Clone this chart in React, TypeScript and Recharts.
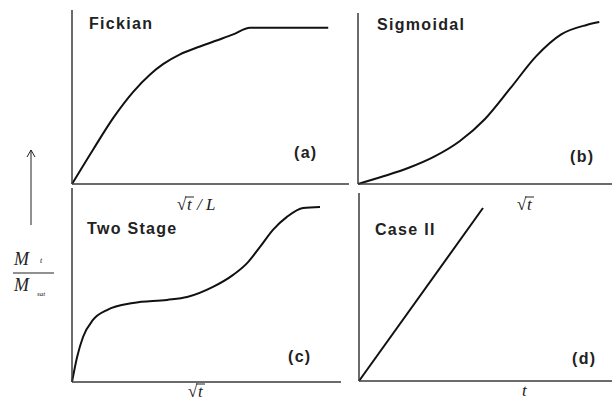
import { LineChart, Line, XAxis, YAxis } from "recharts";

// values; x runs 0..10 along each axis, y is the fraction of the axis height
const fickianX = [0, 0.77, 1.49, 2.21, 2.82, 3.3, 3.9, 4.62, 5.22, 5.82, 6.43, 9.25];
const fickianY = [0, 0.2, 0.38, 0.53, 0.63, 0.69, 0.745, 0.79, 0.825, 0.86, 0.898, 0.898];

const sigmoidalX = [0, 1, 2, 3, 4, 5, 6, 7, 8, 9, 9.5];
const sigmoidalY = [0, 0.045, 0.095, 0.16, 0.25, 0.38, 0.56, 0.745, 0.875, 0.93, 0.947];

const twoStageX = [0, 0.19, 0.41, 0.78, 1.3, 2.27, 3.53, 4.28, 5.24, 5.99, 6.51, 6.99, 7.47, 7.99, 8.59, 9.22];
const twoStageY = [0, 0.129, 0.232, 0.32, 0.371, 0.407, 0.423, 0.438, 0.49, 0.552, 0.613, 0.696, 0.784, 0.851, 0.897, 0.902];

const caseTwoX = [0, 4.9];
const caseTwoY = [0, 0.92];

const AXIS = "#3a3a3a";
const INK = "#111";

const toRows = (xs: number[], ys: number[]) => xs.map((x, i) => ({ x, y: ys[i] }));

interface Box {
  left: number;
  top: number;
  width: number;
  height: number;
}

// each panel is its own small chart, placed so that its plot box sits where the picture has it
function Panel({ box, data, curve }: { box: Box; data: { x: number; y: number }[]; curve: "monotone" | "linear" }) {
  const pad = 3;
  const axisSize = 6;
  return (
    <div style={{ position: "absolute", left: box.left - axisSize, top: box.top - pad }}>
      <LineChart
        width={box.width + axisSize + pad}
        height={box.height + pad + axisSize}
        data={data}
        margin={{ top: pad, right: pad, bottom: 0, left: 0 }}
      >
        <XAxis
          type="number"
          dataKey="x"
          domain={[0, 10]}
          tick={false}
          tickLine={false}
          height={axisSize}
          axisLine={{ stroke: AXIS, strokeWidth: 1.5 }}
        />
        <YAxis
          type="number"
          domain={[0, 1]}
          tick={false}
          tickLine={false}
          width={axisSize}
          axisLine={{ stroke: AXIS, strokeWidth: 1.5 }}
        />
        <Line dataKey="y" type={curve} stroke={INK} strokeWidth={2} dot={false} isAnimationActive={false} />
      </LineChart>
    </div>
  );
}

const titleStyle = {
  fontFamily: "'Liberation Sans', Arial, sans-serif",
  fontWeight: 700,
  fontSize: 16,
  letterSpacing: 1.3,
  fill: "#222",
};

const mathStyle = {
  fontFamily: "'Liberation Serif', 'Times New Roman', serif",
  fontStyle: "italic" as const,
  fontSize: 17,
  fill: "#222",
};

function SqrtT({ x, y, suffix }: { x: number; y: number; suffix?: string }) {
  return (
    <g>
      <text x={x} y={y} style={{ ...mathStyle, fontStyle: "normal" }}>
        √
      </text>
      <line x1={x + 8} y1={y - 13} x2={x + 17} y2={y - 13} stroke="#222" strokeWidth={1} />
      <text x={x + 10} y={y} style={mathStyle}>
        t
      </text>
      {suffix && (
        <text x={x + 20} y={y} style={mathStyle}>
          {suffix}
        </text>
      )}
    </g>
  );
}

export default function App() {
  return (
    <div style={{ position: "absolute", left: 0, top: 0, width: 612, height: 402, background: "#fff", overflow: "hidden" }}>
      <Panel box={{ left: 72, top: 10, width: 277, height: 174 }} data={toRows(fickianX, fickianY)} curve="monotone" />
      <Panel box={{ left: 358, top: 13, width: 254, height: 171 }} data={toRows(sigmoidalX, sigmoidalY)} curve="monotone" />
      <Panel box={{ left: 72, top: 188, width: 269, height: 194 }} data={toRows(twoStageX, twoStageY)} curve="monotone" />
      <Panel box={{ left: 359, top: 193, width: 253, height: 188 }} data={toRows(caseTwoX, caseTwoY)} curve="linear" />

      <svg width={612} height={402} style={{ position: "absolute", left: 0, top: 0, pointerEvents: "none" }}>
        <text x={89} y={29} style={titleStyle}>Fickian</text>
        <text x={377} y={30} style={titleStyle}>Sigmoidal</text>
        <text x={87} y={234} style={titleStyle}>Two Stage</text>
        <text x={375} y={235} style={titleStyle}>Case II</text>

        <text x={294} y={158} style={titleStyle}>(a)</text>
        <text x={570} y={162} style={titleStyle}>(b)</text>
        <text x={288} y={362} style={titleStyle}>(c)</text>
        <text x={572} y={364} style={titleStyle}>(d)</text>

        <SqrtT x={177} y={210} suffix=" / L" />
        <SqrtT x={517} y={210} />
        <SqrtT x={188} y={397} />
        <text x={522} y={396} style={mathStyle}>t</text>

        <line x1={31} y1={225} x2={31} y2={150} stroke="#222" strokeWidth={1} />
        <polyline points="27,157 31,150 35,157" fill="none" stroke="#222" strokeWidth={1} />
        <text x={14} y={265} style={{ ...mathStyle, fontSize: 18 }}>M</text>
        <text x={40} y={263} style={{ ...mathStyle, fontSize: 8 }}>t</text>
        <line x1={13} y1={273} x2={54} y2={273} stroke="#222" strokeWidth={1} />
        <text x={14} y={291} style={{ ...mathStyle, fontSize: 18 }}>M</text>
        <text x={37} y={296} style={{ ...mathStyle, fontSize: 7 }}>sat</text>
      </svg>
    </div>
  );
}
